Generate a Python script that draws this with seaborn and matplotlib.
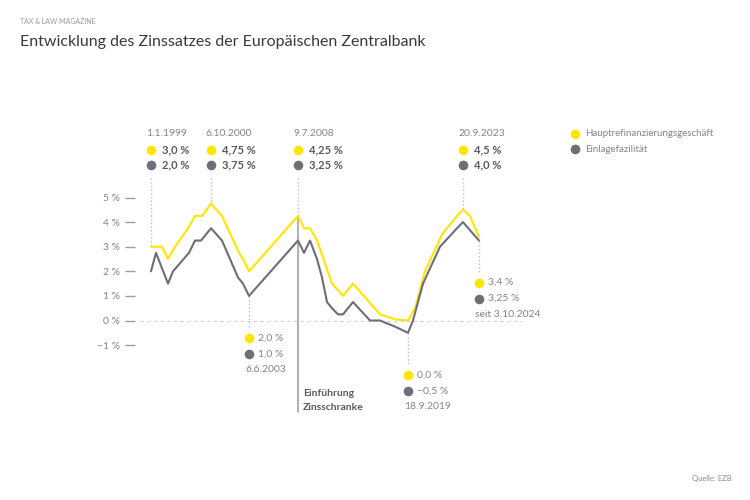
import numpy as np
import pandas as pd
import matplotlib
matplotlib.use("Agg")
import matplotlib.pyplot as plt
import seaborn as sns

# Hauptrefinanzierungsgeschaeft (position along the axis, rate in %)
pos_mro = [0, 11, 17, 24, 37, 44, 51, 60, 71, 88, 92, 98, 147, 153, 159, 166,
           181, 192, 202, 229, 244, 257, 264, 274, 291, 306, 312, 319, 328]
rate_mro = [3.0, 3.0, 2.5, 3.0, 3.75, 4.25, 4.25, 4.75, 4.25, 2.75, 2.5, 2.0,
            4.25, 3.75, 3.75, 3.25, 1.5, 1.0, 1.5, 0.25, 0.05, 0.0, 0.5, 2.0,
            3.5, 4.25, 4.5, 4.25, 3.4]

# Einlagefazilitaet
pos_dep = [0, 5, 17, 22, 38, 44, 50, 60, 71, 87, 92, 98, 147, 153, 159, 166,
           171, 176, 181, 187, 192, 202, 219, 229, 244, 257, 262, 272, 289,
           306, 312, 328]
rate_dep = [2.0, 2.75, 1.5, 2.0, 2.75, 3.25, 3.25, 3.75, 3.25, 1.75, 1.5, 1.0,
            3.25, 2.75, 3.25, 2.5, 1.75, 0.75, 0.5, 0.25, 0.25, 0.75, 0.0,
            0.0, -0.25, -0.5, 0.0, 1.5, 3.0, 3.75, 4.0, 3.25]

series_names = ["Hauptrefinanzierungsgeschäft", "Einlagefazilität"]
yellow = "#FFE600"
grey = "#6E6E78"

# annotations above the chart: date, mro label, deposit label, index in pos_mro
top_dates = ["1.1.1999", "6.10.2000", "9.7.2008", "20.9.2023"]
top_mro = ["3,0 %", "4,75 %", "4,25 %", "4,5 %"]
top_dep = ["2,0 %", "3,75 %", "3,25 %", "4,0 %"]
top_idx = [0, 7, 12, 26]

# annotations below the chart
bot_dates = ["6.6.2003", "18.9.2019", "seit 3.10.2024"]
bot_mro = ["2,0 %", "0,0 %", "3,4 %"]
bot_dep = ["1,0 %", "−0,5 %", "3,25 %"]
bot_idx = [11, 21, 28]

yticks = [-1, 0, 1, 2, 3, 4, 5]

df = pd.concat([
    pd.DataFrame({"pos": pos_mro, "rate": rate_mro, "serie": series_names[0]}),
    pd.DataFrame({"pos": pos_dep, "rate": rate_dep, "serie": series_names[1]}),
])

sns.set_theme(style="white")
plt.rcParams["font.family"] = ["Lato", "DejaVu Sans"]

fig = plt.figure(figsize=(7.5, 5), dpi=100)
ax = fig.add_axes([135 / 750, 0, 615 / 750, 1])

PX = 24.6  # pixels per percent


def py(y):
    # pixel row -> data value
    return (320.5 - y) / PX


def px(x):
    return x - 151


ax.set_xlim(-16, 599)
ax.set_ylim(py(500), py(0))

txt_c = "#84848E"
val_c = "#5A5A64"
dot_s = 48

# 0 % line
ax.hlines(0, px(140), px(522), colors="#D2D2D6", linestyles=(0, (3, 3)), lw=0.8, zorder=1)

sns.lineplot(data=df, x="pos", y="rate", hue="serie", palette=[yellow, grey],
             estimator=None, sort=False, legend=False, lw=1.5, ax=ax, zorder=3)

# top annotations
for d, m, e, i in zip(top_dates, top_mro, top_dep, top_idx):
    x = pos_mro[i]
    ax.text(x - 5, py(133), d, fontsize=7.5, color=txt_c, va="center", ha="left")
    ax.scatter([x], [py(150)], s=dot_s, color=yellow, lw=0, clip_on=False)
    ax.scatter([x], [py(165)], s=dot_s, color=grey, lw=0, clip_on=False)
    ax.text(x + 11, py(150), m, fontsize=8, fontweight="bold", color=val_c, va="center")
    ax.text(x + 11, py(165), e, fontsize=8, fontweight="bold", color=val_c, va="center")
    ax.plot([x, x], [py(178), rate_mro[i]], ls=":", color="#BDBDC3", lw=1, zorder=2)

# Zinsschranke marker
x08 = pos_mro[12]
ax.plot([x08, x08], [rate_mro[12], py(412)], color="#9A9AA2", lw=1.1, zorder=2)
ax.text(x08 + 5, py(393), "Einführung", fontsize=7.5, fontweight="bold", color=val_c, va="center")
ax.text(x08 + 5, py(407), "Zinsschranke", fontsize=7.5, fontweight="bold", color=val_c, va="center")

# bottom annotations
for d, m, e, i in zip(bot_dates, bot_mro, bot_dep, bot_idx):
    x = pos_mro[i]
    low = rate_dep[pos_dep.index(x)]
    ylow = 320.5 - low * PX
    ax.plot([x, x], [low, py(ylow + 32)], ls=":", color="#BDBDC3", lw=1, zorder=2)
    ax.scatter([x], [py(ylow + 42)], s=dot_s, color=yellow, lw=0, clip_on=False)
    ax.scatter([x], [py(ylow + 58)], s=dot_s, color=grey, lw=0, clip_on=False)
    ax.text(x + 9, py(ylow + 42), m, fontsize=7.5, color=txt_c, va="center")
    ax.text(x + 9, py(ylow + 58), e, fontsize=7.5, color=txt_c, va="center")
    ax.text(x - 4, py(ylow + 74), d, fontsize=7.5, color=txt_c, va="center")

# legend
for k, (name, c) in enumerate(zip(series_names, [yellow, grey])):
    yy = py(134 + 15 * k)
    ax.scatter([px(575)], [yy], s=dot_s, color=c, lw=0, clip_on=False)
    ax.text(px(585), yy, name, fontsize=7, color=txt_c, va="center")

# y axis
ax.set_yticks(yticks)
ax.set_yticklabels([f"{v} %".replace("-", "−") for v in yticks])
ax.tick_params(axis="y", left=True, length=7, width=1, color="#9A9AA2",
               labelsize=7.5, labelcolor=txt_c, pad=4)
ax.set_xticks([])
ax.set_xlabel("")
ax.set_ylabel("")
for s in ax.spines.values():
    s.set_visible(False)
ax.patch.set_alpha(0)

fig.text(20 / 750, 1 - 21 / 500, "TAX & LAW MAGAZINE", fontsize=5, color="#9A9AA0", va="center")
fig.text(20 / 750, 1 - 42 / 500, "Entwicklung des Zinssatzes der Europäischen Zentralbank",
         fontsize=11.5, color="#3A3A3A", va="center")
fig.text(732 / 750, 1 - 478 / 500, "Quelle: EZB", fontsize=5.5, color="#8A8A8A",
         ha="right", va="center")

fig.savefig("out.png", dpi=100)
